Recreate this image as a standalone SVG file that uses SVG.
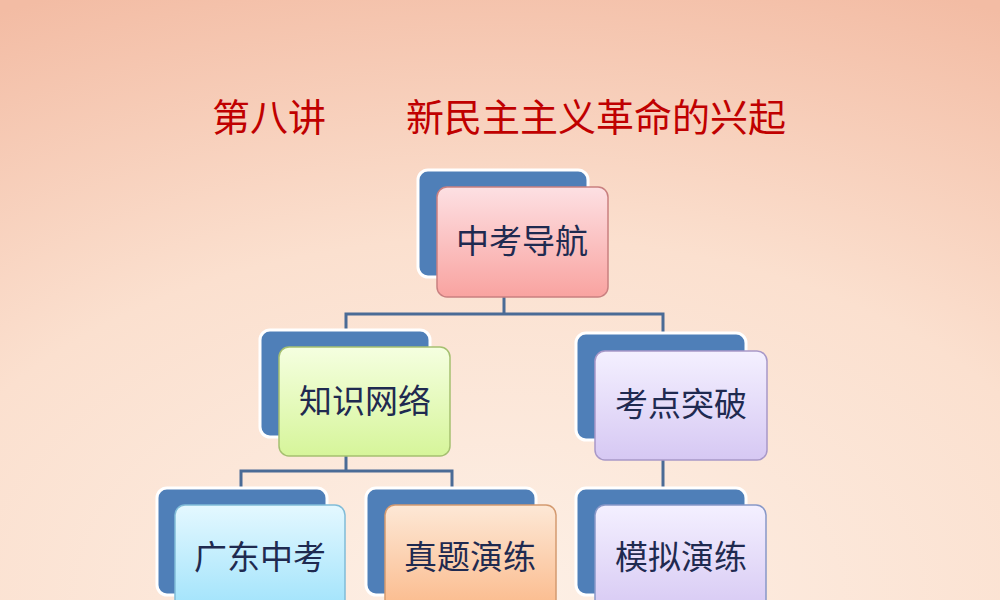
<svg xmlns="http://www.w3.org/2000/svg" width="1000" height="600" viewBox="0 0 1000 600">
<defs>
<radialGradient id="bg" cx="0.5" cy="1.0" r="1.1">
<stop offset="0" stop-color="#fdf0e6"/>
<stop offset="0.55" stop-color="#fbe0cf"/>
<stop offset="1" stop-color="#f3bca4"/>
</radialGradient>
<linearGradient id="gRed" x1="0" y1="0" x2="0" y2="1"><stop offset="0" stop-color="#fde0e3"/><stop offset="1" stop-color="#f9a3a0"/></linearGradient>
<linearGradient id="gGreen" x1="0" y1="0" x2="0" y2="1"><stop offset="0" stop-color="#f5ffe0"/><stop offset="1" stop-color="#d6f59a"/></linearGradient>
<linearGradient id="gPurple" x1="0" y1="0" x2="0" y2="1"><stop offset="0" stop-color="#f4f0ff"/><stop offset="1" stop-color="#d6c8f3"/></linearGradient>
<linearGradient id="gBlue" x1="0" y1="0" x2="0" y2="1"><stop offset="0" stop-color="#e4f8ff"/><stop offset="1" stop-color="#9de2fb"/></linearGradient>
<linearGradient id="gOrange" x1="0" y1="0" x2="0" y2="1"><stop offset="0" stop-color="#fde8d6"/><stop offset="1" stop-color="#fbb888"/></linearGradient>
<style>
.back{fill:#4f7fb8;stroke:#ffffff;stroke-width:3}
.front{stroke-width:1.5}
.lbl{font-family:"Liberation Serif","Noto Sans CJK SC",serif;font-size:33px;fill:#1f2a50;text-anchor:middle;dominant-baseline:central}
.conn{fill:none;stroke:#4a6b96;stroke-width:3}
.title{font-family:"Noto Sans CJK SC",sans-serif;font-size:38px;fill:#c00000}
</style>
</defs>
<rect width="1000" height="600" fill="url(#bg)"/>
<text class="title" x="212" y="131">第八讲</text>
<text class="title" x="406" y="131">新民主主义革命的兴起</text>
<g id="connectors">
<path class="conn" d="M504,297 V314 H346 V331 M504,314 H663 V334"/>
<path class="conn" d="M346,456 V471 H241 V488 M346,471 H452 V488"/>
<path class="conn" d="M663,460 V488"/>
</g>
<g id="n1"><rect class="back" x="418" y="170" width="170" height="107" rx="10"/><rect class="front" x="437" y="187" width="171" height="110" rx="10" fill="url(#gRed)" stroke="#c98080"/><text class="lbl" x="522" y="242">中考导航</text></g>
<g id="n2"><rect class="back" x="260" y="330" width="170" height="107" rx="10"/><rect class="front" x="279" y="347" width="171" height="109" rx="10" fill="url(#gGreen)" stroke="#a5c070"/><text class="lbl" x="365" y="402">知识网络</text></g>
<g id="n3"><rect class="back" x="576" y="333" width="170" height="107" rx="10"/><rect class="front" x="595" y="351" width="172" height="109" rx="10" fill="url(#gPurple)" stroke="#a898c8"/><text class="lbl" x="681" y="405">考点突破</text></g>
<g id="n4"><rect class="back" x="157" y="488" width="170" height="107" rx="10"/><rect class="front" x="175" y="505" width="170" height="110" rx="10" fill="url(#gBlue)" stroke="#80bcd8"/><text class="lbl" x="260" y="558">广东中考</text></g>
<g id="n5"><rect class="back" x="366" y="488" width="170" height="107" rx="10"/><rect class="front" x="385" y="505" width="171" height="110" rx="10" fill="url(#gOrange)" stroke="#d49a70"/><text class="lbl" x="470" y="558">真题演练</text></g>
<g id="n6"><rect class="back" x="576" y="488" width="170" height="107" rx="10"/><rect class="front" x="595" y="505" width="171" height="110" rx="10" fill="url(#gPurple)" stroke="#8898c8"/><text class="lbl" x="681" y="558">模拟演练</text></g>
</svg>
